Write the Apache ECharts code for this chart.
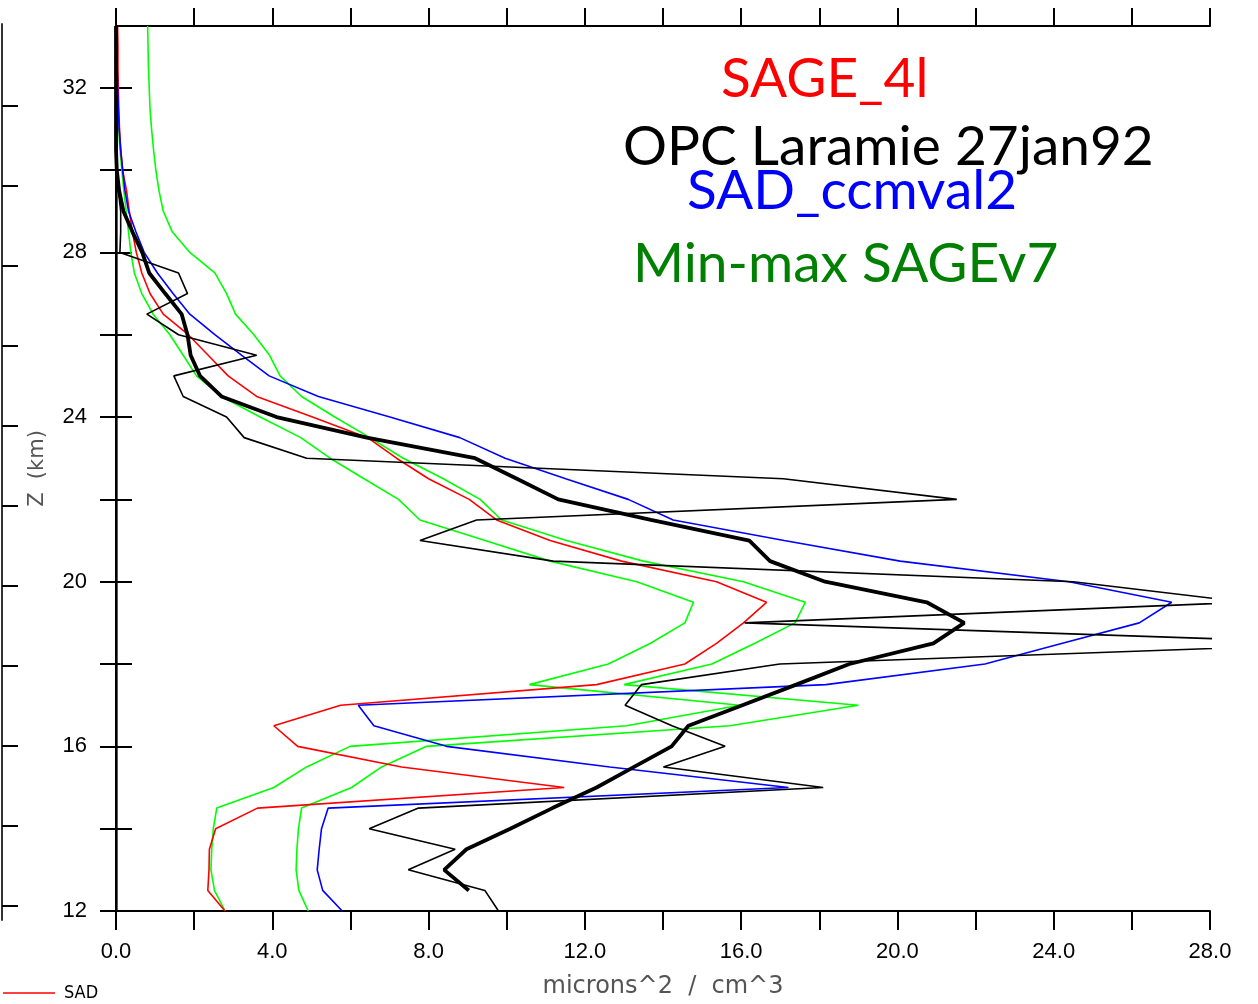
<!DOCTYPE html>
<html>
<head>
<meta charset="utf-8">
<title>SAD profiles</title>
<script src="https://cdn.jsdelivr.net/npm/echarts@6.0.0/dist/echarts.min.js"></script>
<style>
  html, body { margin: 0; padding: 0; background: #fff; }
  #chart { width: 1258px; height: 1004px; }
</style>
</head>
<body>
<div id="chart"></div>
<script>
// altitude levels (km), bottom to top
var altitude = [12, 12.5, 13, 13.5, 14, 14.5, 15, 15.5, 16, 16.5, 17, 17.5, 18, 18.5, 19, 19.5,
  20, 20.5, 21, 21.5, 22, 22.5, 23, 23.5, 24, 24.5, 25, 25.5, 26, 26.5, 27, 27.5,
  28, 28.5, 29, 29.5, 30, 30.5, 31, 31.5, 32, 32.5, 33, 33.5];

// surface area density, microns^2 / cm^3
var sage4l = [2.79, 2.35, 2.38, 2.39, 2.55, 3.62, 11.47, 7.31, 4.65, 4.04, 5.75, 12.30, 14.56, 15.37, 16.06, 16.65,
  15.37, 12.94, 11.11, 9.74, 9.04, 8.00, 7.18, 6.44, 5.03, 3.60, 2.87, 2.36, 1.85, 1.21, 0.87, 0.66,
  0.52, 0.42, 0.34, 0.27, 0.17, 0.12, 0.09, 0.07, 0.06, 0.05, 0.05, 0.04];
var opcLaramie = [9.79, 9.44, 7.48, 8.68, 6.48, 7.74, 18.10, 14.01, 15.59, 14.23, 13.03, 13.45, 16.99, 31.7, 16.09, 28.9,
  24.5, 11.19, 7.78, 9.23, 21.52, 17.08, 4.88, 3.28, 2.83, 1.72, 1.48, 3.60, 1.60, 0.79, 1.83, 1.60,
  0.10, 0.12, 0.12, 0.06, 0.01, 0, 0, 0, 0, 0, 0, 0];
var opcSmooth = [null, 9.03, 8.40, 8.97, 10.09, 11.17, 12.30, 13.26, 14.22, 14.65, 16.03, 17.41, 18.77, 20.92, 21.71, 20.75,
  18.15, 16.74, 16.21, 13.69, 11.32, 10.26, 9.19, 6.42, 4.11, 2.70, 2.15, 1.91, 1.83, 1.68, 1.26, 0.85,
  0.67, 0.42, 0.19, 0.08, 0.02, 0, 0, 0, 0, 0, 0, 0];
var ccmval2 = [5.79, 5.29, 5.15, 5.20, 5.26, 5.43, 17.21, 12.64, 8.46, 6.60, 6.20, 18.17, 22.24, 24.20, 26.19, 27.02,
  24.39, 20.07, 17.10, 14.26, 13.11, 11.51, 9.96, 8.80, 7.01, 5.18, 3.92, 3.22, 2.53, 1.89, 1.46, 1.06,
  0.72, 0.51, 0.32, 0.23, 0.17, 0.12, 0.08, 0.06, 0.04, 0.03, 0.02, 0.02];
var sagev7Min = [2.79, 2.52, 2.43, 2.45, 2.49, 2.58, 4.04, 4.88, 5.99, 13.07, 15.97, 10.58, 12.60, 13.67, 14.56, 14.78,
  13.33, 11.11, 9.45, 7.78, 7.23, 6.35, 5.48, 4.73, 3.69, 2.70, 2.06, 1.72, 1.38, 0.95, 0.66, 0.47,
  0.38, 0.32, 0.26, 0.20, 0.15, 0.10, 0.07, 0.05, 0.04, 0.03, 0.03, 0.02];
var sagev7Max = [4.92, 4.68, 4.61, 4.63, 4.67, 4.75, 6.03, 6.80, 7.95, 15.71, 19.00, 13.00, 15.25, 16.34, 17.38, 17.64,
  16.06, 13.50, 11.53, 9.87, 9.32, 8.38, 7.35, 6.50, 5.60, 4.75, 4.20, 3.93, 3.53, 3.06, 2.83, 2.53,
  1.89, 1.44, 1.21, 1.10, 1.02, 0.96, 0.91, 0.87, 0.85, 0.83, 0.82, 0.81];

// axis ticks
var zTicks = [12, 14, 16, 18, 20, 22, 24, 26, 28, 30, 32];
var zLabels = [12, 16, 20, 24, 28, 32];
var sideTicks = [1, 2, 3, 4, 5, 6, 7, 8, 9, 10, 11];

function profile (vals) {
  var pts = [];
  vals.forEach(function (v, i) {
    if (v !== null) pts.push([v, altitude[i]]);
  });
  return pts;
}

var myChart = echarts.init(document.getElementById("chart"));
var tickFont = { color: "#000", fontSize: 22, fontFamily: "Liberation Sans, Arial, sans-serif" };
var option = {
  backgroundColor: "#fff",
  animation: false,
  grid: [
    { left: 116, right: 48, top: 26, bottom: 91 },
    // edge of the neighbouring panel, cut off at the left
    { left: -100, width: 102, top: 24, height: 896 },
  ],
  legend: {
    data: [{ name: "SAD", icon: "rect" }],
    left: -2,
    top: 979,
    itemWidth: 52,
    itemHeight: 1.5,
    textStyle: {
      color: "#000",
      fontSize: 18,
      fontFamily: "Liberation Sans Narrow, DejaVu Sans Condensed, sans-serif",
      padding: [0, 0, 0, 4],
    },
  },
  xAxis: [
    {
      type: "value",
      gridIndex: 0,
      position: "bottom",
      min: 0,
      max: 28,
      interval: 2,
      name: "microns^2  /  cm^3",
      nameLocation: "middle",
      nameGap: 64,
      nameTextStyle: { color: "#555", fontSize: 24, fontFamily: "DejaVu Sans, sans-serif" },
      axisLine: { lineStyle: { color: "#000", width: 2 } },
      axisTick: { inside: false, length: 19, lineStyle: { color: "#000", width: 2 } },
      axisLabel: Object.assign({
        margin: 30,
        formatter: function (v) { return v % 4 === 0 ? v.toFixed(1) : ""; },
      }, tickFont),
      splitLine: { show: false },
    },
    {
      type: "value",
      gridIndex: 0,
      position: "top",
      min: 0,
      max: 28,
      interval: 2,
      axisLine: { lineStyle: { color: "#000", width: 2 } },
      axisTick: { inside: false, length: 18, lineStyle: { color: "#000", width: 2 } },
      axisLabel: { show: false },
      splitLine: { show: false },
    },
    { type: "value", gridIndex: 1, show: false, min: 0, max: 1 },
  ],
  yAxis: [
    {
      type: "value",
      gridIndex: 0,
      position: "left",
      min: 12,
      max: 33.5,
      interval: 2,
      name: "Z  (km)",
      nameLocation: "middle",
      nameGap: 68,
      nameTextStyle: { color: "#555", fontSize: 21, fontFamily: "DejaVu Sans, sans-serif" },
      axisLine: { lineStyle: { color: "#222", width: 2.5 } },
      axisTick: { inside: false, length: 16, customValues: zTicks, lineStyle: { color: "#000", width: 2 } },
      axisLabel: Object.assign({ margin: 29, customValues: zLabels }, tickFont),
      splitLine: { show: false },
    },
    {
      type: "value",
      gridIndex: 0,
      position: "right",
      min: 12,
      max: 33.5,
      interval: 2,
      axisLine: { lineStyle: { color: "#000", width: 2 } },
      axisTick: { inside: false, length: 16, customValues: zTicks, lineStyle: { color: "#000", width: 2 } },
      axisLabel: { show: false },
      splitLine: { show: false },
    },
    {
      type: "value",
      gridIndex: 1,
      position: "right",
      inverse: true,
      min: -0.0163,
      max: 11.1837,
      axisLine: { lineStyle: { color: "#333", width: 2 } },
      axisTick: { inside: false, length: 16, customValues: sideTicks, lineStyle: { color: "#000", width: 2 } },
      axisLabel: { show: false },
      splitLine: { show: false },
    },
  ],
  graphic: [
    { type: "text", left: 721, top: 52, style: { text: "SAGE_4l", fill: "#ff0000", font: "55px Lato" } },
    { type: "text", left: 623, top: 120, style: { text: "OPC Laramie 27jan92", fill: "#000", font: "55px Lato" } },
    { type: "text", left: 687, top: 164, style: { text: "SAD_ccmval2", fill: "#0000ff", font: "55px Lato" } },
    { type: "text", left: 633, top: 237, style: { text: "Min-max SAGEv7", fill: "#008000", font: "55px Lato" } },
  ],
  series: [
    {
      name: "Min SAGEv7",
      type: "line",
      symbol: "none",
      lineStyle: { color: "#00ff00", width: 1.6 },
      data: profile(sagev7Min),
    },
    {
      name: "Max SAGEv7",
      type: "line",
      symbol: "none",
      lineStyle: { color: "#00ff00", width: 1.6 },
      data: profile(sagev7Max),
    },
    {
      name: "SAD",
      type: "line",
      symbol: "none",
      itemStyle: { color: "#ff0000" },
      lineStyle: { color: "#ff0000", width: 1.6 },
      data: profile(sage4l),
    },
    {
      name: "SAD_ccmval2",
      type: "line",
      symbol: "none",
      lineStyle: { color: "#0000ff", width: 1.6 },
      data: profile(ccmval2),
    },
    {
      name: "OPC Laramie 27jan92",
      type: "line",
      symbol: "none",
      lineStyle: { color: "#000", width: 1.6 },
      data: profile(opcLaramie),
    },
    {
      name: "OPC smoothed",
      type: "line",
      symbol: "none",
      lineStyle: { color: "#000", width: 3.8 },
      data: profile(opcSmooth),
    },
  ],
};
option && myChart.setOption(option);
</script>
</body>
</html>
